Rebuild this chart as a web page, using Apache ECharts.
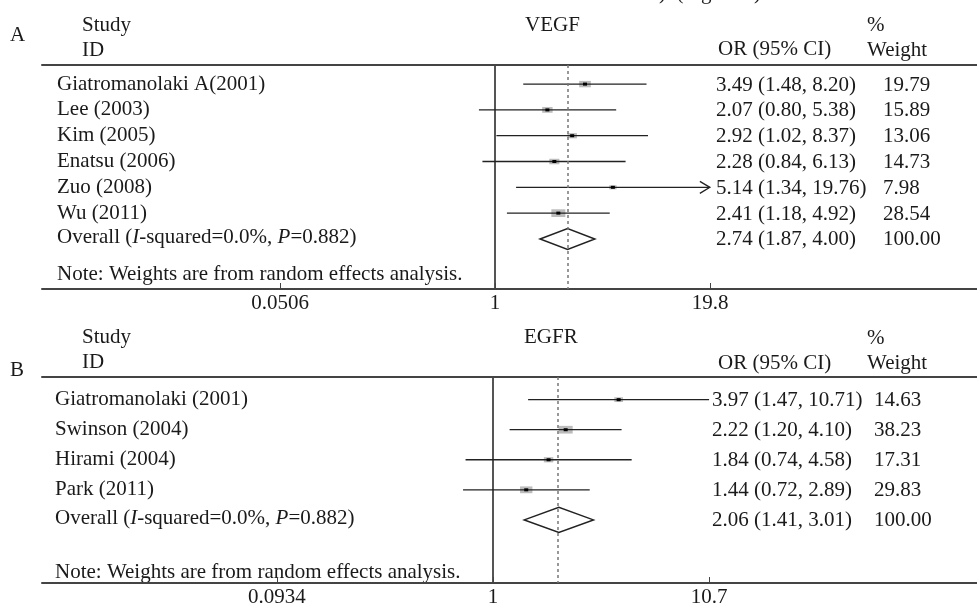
<!DOCTYPE html>
<html>
<head>
<meta charset="utf-8">
<script src="https://cdn.jsdelivr.net/npm/echarts@6/dist/echarts.min.js"></script>
<style>
  html,body{margin:0;padding:0;background:#fff;}
  #main{width:977px;height:608px;}
</style>
</head>
<body>
<div id="main"></div>
<script>
// VEGF 数据
var vegfStudies = ['Giatromanolaki A(2001)', 'Lee (2003)', 'Kim (2005)', 'Enatsu (2006)', 'Zuo (2008)', 'Wu (2011)'];
var vegfOR = [3.49, 2.07, 2.92, 2.28, 5.14, 2.41];
var vegfLo = [1.48, 0.80, 1.02, 0.84, 1.34, 1.18];
var vegfHi = [8.20, 5.38, 8.37, 6.13, 19.76, 4.92];
var vegfWeight = [19.79, 15.89, 13.06, 14.73, 7.98, 28.54];
var vegfArrow = [0, 0, 0, 0, 1, 0];
var vegfOverall = [2.74, 1.87, 4.00];
var vegfHet = ['0.0%', '0.882'];
var vegfTicks = [0.0506, 1, 19.8];
var vegfTickLabels = ['0.0506', '1', '19.8'];

// EGFR 数据
var egfrStudies = ['Giatromanolaki (2001)', 'Swinson (2004)', 'Hirami (2004)', 'Park (2011)'];
var egfrOR = [3.97, 2.22, 1.84, 1.44];
var egfrLo = [1.47, 1.20, 0.74, 0.72];
var egfrHi = [10.71, 4.10, 4.58, 2.89];
var egfrWeight = [14.63, 38.23, 17.31, 29.83];
var egfrArrow = [0, 0, 0, 0];
var egfrOverall = [2.06, 1.41, 3.01];
var egfrHet = ['0.0%', '0.882'];
var egfrTicks = [0.0934, 1, 10.7];
var egfrTickLabels = ['0.0934', '1', '10.7'];

var FONT = '21px "Liberation Serif", "Times New Roman", serif';
var TXT = '#1a1a1a';
var myChart = echarts.init(document.getElementById('main'));

// 面板布局
var panels = [
  {studies: vegfStudies, or: vegfOR, lo: vegfLo, hi: vegfHi, w: vegfWeight, arrow: vegfArrow,
   overall: vegfOverall, het: vegfHet, ticks: vegfTicks, tickLabels: vegfTickLabels,
   top: 65, height: 224, zeroPx: 495, tickPx: 710, yMin: -0.74, yMax: 7.94,
   nameX: 57, orX: 716, wX: 883, dh: 10.5},
  {studies: egfrStudies, or: egfrOR, lo: egfrLo, hi: egfrHi, w: egfrWeight, arrow: egfrArrow,
   overall: egfrOverall, het: egfrHet, ticks: egfrTicks, tickLabels: egfrTickLabels,
   top: 377, height: 209, zeroPx: 493, tickPx: 709, yMin: -0.754, yMax: 6.10,
   nameX: 55, orX: 712, wX: 874, dh: 12.5}
];
var LEFT = 42, WIDTH = 977;

function fmt(v) { return v.toFixed(2); }

function makeRender(p) {
  var maxW = Math.max.apply(null, p.w);
  var n = p.studies.length;
  return function (params, api) {
    var i = api.value(0);
    var pc = api.coord([Math.log10(api.value(1)), i]);
    var pl = api.coord([Math.log10(api.value(2)), i]);
    var ph = api.coord([Math.log10(api.value(3)), i]);
    var y = pc[1];
    var kids = [];
    var orText = fmt(api.value(1)) + ' (' + fmt(api.value(2)) + ', ' + fmt(api.value(3)) + ')';
    if (i === n) {
      kids.push({type: 'polygon', shape: {points: [[pl[0], y], [pc[0], y - p.dh], [ph[0], y], [pc[0], y + p.dh]]},
        style: {fill: 'none', stroke: '#222', lineWidth: 1.5}});
      kids.push({type: 'text', x: p.nameX, y: y - 1, style: {
        text: '{a|Overall (}{i|I}{a|-squared=' + p.het[0] + ', }{i|P}{a|=' + p.het[1] + ')}',
        font: FONT, fill: TXT, verticalAlign: 'middle',
        rich: {a: {font: FONT, fill: TXT}, i: {font: 'italic ' + FONT, fill: TXT}}}});
      kids.push({type: 'text', x: p.wX, y: y + 1, style: {text: '100.00', font: FONT, fill: TXT, verticalAlign: 'middle'}});
    } else {
      var bw = 14 * Math.sqrt(api.value(4) / maxW);
      var bh = bw * 0.55;
      kids.push({type: 'rect', shape: {x: pc[0] - bw / 2, y: y - bh / 2, width: bw, height: bh},
        style: {fill: '#bcbcbc'}});
      kids.push({type: 'line', shape: {x1: pl[0], y1: y, x2: ph[0], y2: y},
        style: {stroke: '#222', lineWidth: 1.3}});
      if (p.arrow[i]) {
        kids.push({type: 'polyline', shape: {points: [[ph[0] - 10, y - 6], [ph[0], y], [ph[0] - 10, y + 6]]},
          style: {stroke: '#222', lineWidth: 1.3, fill: 'none'}});
      }
      kids.push({type: 'rect', shape: {x: pc[0] - 2, y: y - 1.5, width: 4, height: 3}, style: {fill: '#000'}});
      kids.push({type: 'text', x: p.nameX, y: y, style: {text: p.studies[i], font: FONT, fill: TXT, verticalAlign: 'middle'}});
      kids.push({type: 'text', x: p.wX, y: y + 1, style: {text: fmt(api.value(4)), font: FONT, fill: TXT, verticalAlign: 'middle'}});
    }
    kids.push({type: 'text', x: p.orX, y: y + 1, style: {text: orText, font: FONT, fill: TXT, verticalAlign: 'middle'}});
    return {type: 'group', children: kids};
  };
}

var grids = [], xAxes = [], yAxes = [], series = [];
panels.forEach(function (p, k) {
  var pxPerDec = (p.tickPx - p.zeroPx) / Math.log10(p.ticks[2]);
  var xMin = -(p.zeroPx - LEFT) / pxPerDec;
  var xMax = (WIDTH - p.zeroPx) / pxPerDec;
  var tickVals = p.ticks.map(function (t) { return Math.log10(t); });
  grids.push({left: LEFT, right: 0, top: p.top, height: p.height});
  xAxes.push({
    type: 'value', gridIndex: k, min: xMin, max: xMax, position: 'bottom',
    splitLine: {show: false},
    axisLine: {onZero: false, lineStyle: {color: '#444', width: 2}},
    axisTick: {inside: true, length: 6, customValues: tickVals, lineStyle: {color: '#444', width: 1}},
    axisLabel: {
      customValues: tickVals, margin: 4, color: TXT,
      fontFamily: '"Liberation Serif", serif', fontSize: 21,
      formatter: function (v) {
        var best = 0;
        for (var j = 1; j < tickVals.length; j++) {
          if (Math.abs(tickVals[j] - v) < Math.abs(tickVals[best] - v)) best = j;
        }
        return p.tickLabels[best];
      }
    }
  });
  xAxes.push({
    type: 'value', gridIndex: k, min: xMin, max: xMax, position: 'top',
    splitLine: {show: false}, axisTick: {show: false}, axisLabel: {show: false},
    axisLine: {onZero: false, lineStyle: {color: '#444', width: 2}}
  });
  yAxes.push({
    type: 'value', gridIndex: k, min: p.yMin, max: p.yMax, inverse: true,
    splitLine: {show: false}, axisTick: {show: false}, axisLabel: {show: false},
    axisLine: {onZero: true, lineStyle: {color: '#555', width: 2}}
  });
  var rows = p.studies.map(function (s, i) { return [i, p.or[i], p.lo[i], p.hi[i], p.w[i]]; });
  rows.push([p.studies.length, p.overall[0], p.overall[1], p.overall[2], 100]);
  series.push({
    type: 'custom', xAxisIndex: k * 2, yAxisIndex: k, clip: false,
    renderItem: makeRender(p),
    encode: {x: [1, 2, 3], y: 0},
    data: rows,
    silent: true,
    markLine: {
      silent: true, symbol: 'none', label: {show: false},
      lineStyle: {color: '#777', type: [3, 3], width: 1.5},
      data: [{xAxis: Math.log10(p.overall[0])}]
    }
  });
});

function txt(x, y, s, extra) {
  var style = {text: s, font: FONT, fill: TXT, verticalAlign: 'middle'};
  if (extra) for (var key in extra) style[key] = extra[key];
  return {type: 'text', x: x, y: y, style: style};
}

var option = {
  animation: false,
  backgroundColor: '#fff',
  grid: grids,
  xAxis: xAxes,
  yAxis: yAxes,
  series: series,
  graphic: [
    txt(659, -7, ')  (Figure 2)'),
    // A 面板标题
    txt(10, 35, 'A'),
    txt(82, 25, 'Study'),
    txt(82, 50, 'ID'),
    txt(525, 25, 'VEGF'),
    txt(718, 49, 'OR (95% CI)'),
    txt(867, 25, '%'),
    txt(867, 50, 'Weight'),
    txt(57, 274, 'Note: Weights are from random effects analysis.'),
    // B 面板标题
    txt(10, 370, 'B'),
    txt(82, 337, 'Study'),
    txt(82, 362, 'ID'),
    txt(524, 337, 'EGFR'),
    txt(718, 363, 'OR (95% CI)'),
    txt(867, 338, '%'),
    txt(867, 363, 'Weight'),
    txt(55, 572, 'Note: Weights are from random effects analysis.')
  ]
};
myChart.setOption(option);
</script>
</body>
</html>
